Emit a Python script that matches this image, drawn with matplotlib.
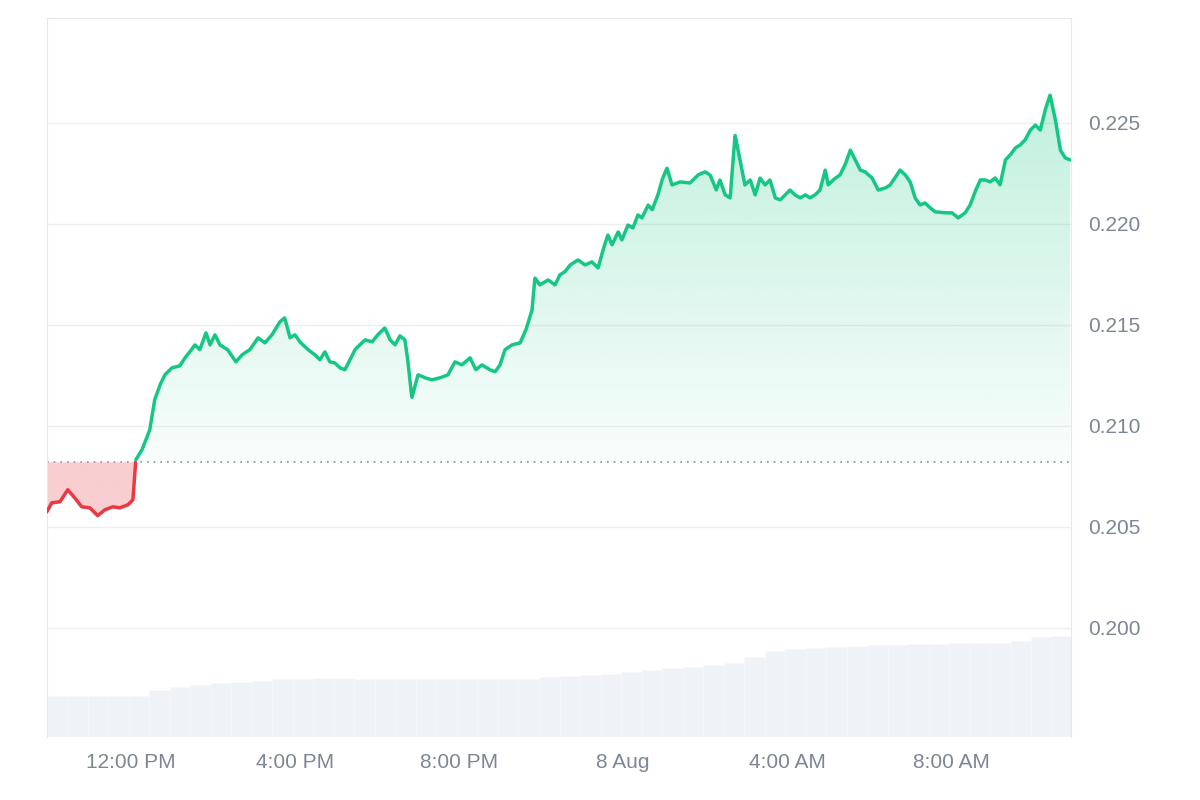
import matplotlib
matplotlib.use("Agg")
import matplotlib.pyplot as plt
import numpy as np
from matplotlib.patches import Polygon
from matplotlib.colors import to_rgb

plt.rcParams['font.family'] = ['Liberation Sans', 'DejaVu Sans']

# hours since chart start (~09:57, 7 Aug)
hours = [0,.12,.32,.51,.68,.85,1.05,1.24,1.41,1.61,1.78,1.98,2.10,2.17,2.32,2.51,2.63,2.76,2.88,3.05,3.24,3.37,3.49,3.61,3.73,3.88,3.98,4.10,4.22,4.41,4.61,4.76,4.95,5.15,5.32,5.49,5.68,5.80,5.93,6.05,6.17,6.37,6.54,6.66,6.78,6.90,7.02,7.15,7.27,7.39,7.51,7.63,7.76,7.93,8.07,8.24,8.37,8.49,8.61,8.73,8.80,8.90,9.05,9.22,9.39,9.59,9.78,9.95,10.12,10.32,10.46,10.61,10.80,10.93,11.05,11.17,11.34,11.54,11.68,11.83,11.90,12.02,12.22,12.39,12.51,12.63,12.76,12.95,13.12,13.29,13.44,13.56,13.68,13.78,13.93,14.02,14.17,14.29,14.41,14.51,14.66,14.76,14.90,15.00,15.12,15.24,15.44,15.68,15.88,16.05,16.17,16.32,16.41,16.54,16.66,16.78,16.90,17.02,17.15,17.27,17.39,17.51,17.63,17.76,17.88,18.00,18.12,18.24,18.37,18.49,18.61,18.73,18.85,18.98,19.05,19.17,19.34,19.46,19.59,19.71,19.83,19.95,20.12,20.27,20.44,20.56,20.68,20.80,20.93,21.05,21.17,21.29,21.41,21.54,21.66,21.90,22.07,22.22,22.39,22.51,22.63,22.76,22.88,23.00,23.12,23.24,23.37,23.49,23.61,23.73,23.85,23.98,24.10,24.22,24.34,24.46,24.59,24.71,24.83,24.95]
price = [0.20574,0.20619,0.20624,0.20684,0.20644,0.20599,0.20594,0.20555,0.20584,0.20599,0.20594,0.20609,0.20634,0.20832,0.20881,0.20980,0.21129,0.21203,0.21253,0.21287,0.21297,0.21337,0.21367,0.21401,0.21377,0.21461,0.21401,0.21451,0.21401,0.21377,0.21317,0.21352,0.21377,0.21436,0.21411,0.21451,0.21515,0.21535,0.21436,0.21451,0.21416,0.21377,0.21352,0.21327,0.21367,0.21317,0.21312,0.21287,0.21278,0.21327,0.21377,0.21401,0.21426,0.21416,0.21451,0.21485,0.21426,0.21401,0.21446,0.21426,0.21327,0.21139,0.21253,0.21238,0.21228,0.21238,0.21253,0.21317,0.21302,0.21337,0.21278,0.21302,0.21278,0.21268,0.21302,0.21377,0.21401,0.21411,0.21475,0.21574,0.21733,0.21698,0.21723,0.21698,0.21748,0.21763,0.21797,0.21822,0.21797,0.21812,0.21782,0.21871,0.21946,0.21896,0.21961,0.21921,0.21995,0.21980,0.22045,0.22030,0.22094,0.22070,0.22144,0.22218,0.22277,0.22193,0.22208,0.22203,0.22243,0.22258,0.22243,0.22168,0.22218,0.22144,0.22129,0.22441,0.22317,0.22193,0.22218,0.22144,0.22228,0.22193,0.22218,0.22129,0.22119,0.22144,0.22168,0.22144,0.22129,0.22144,0.22129,0.22144,0.22168,0.22267,0.22193,0.22218,0.22243,0.22292,0.22366,0.22317,0.22267,0.22258,0.22228,0.22168,0.22178,0.22193,0.22228,0.22267,0.22243,0.22208,0.22129,0.22094,0.22104,0.22079,0.22060,0.22055,0.22055,0.22030,0.22055,0.22094,0.22159,0.22218,0.22218,0.22208,0.22228,0.22193,0.22317,0.22342,0.22376,0.22391,0.22416,0.22465,0.22490,0.22465,0.22564,0.22639,0.22515,0.22366,0.22327,0.22317]
baseline = 0.2082
# volume every 30 min (relative units)
volume = [41,41,41,41,41,47,50,52,54,55,56,58,58,59,59,58,58,58,58,58,58,58,58,58,60,61,62,63,65,67,69,70,72,74,80,86,88,89,90,91,92,92,93,93,94,94,94,96,100,101]
tick_hours = [2.05, 6.05, 10.05, 14.05, 18.05, 22.05]
tick_labels = ["12:00 PM", "4:00 PM", "8:00 PM", "8 Aug", "4:00 AM", "8:00 AM"]
yticks = [0.200, 0.205, 0.210, 0.215, 0.220, 0.225]

GREEN = "#16c784"; RED = "#ea3943"; GRAY = "#7d8696"
t = np.array(hours); p = np.array(price)
xmin, xmax = 0, 24.97
ymin, ymax = 0.1946, 0.2302

fig = plt.figure(figsize=(12, 8), dpi=100)
ax = fig.add_axes([0.039, 0.079, 0.8535, 0.8985])
ax.set_xlim(xmin, xmax); ax.set_ylim(ymin, ymax)

axv = ax.twinx()
axv.set_zorder(0); ax.set_zorder(1); ax.patch.set_visible(False)
vt = np.arange(len(volume)) * 0.5 + 0.25
axv.bar(vt, volume, width=0.5, color="#eff2f6", edgecolor="#f7f8fa", linewidth=0.5)
axv.set_ylim(0, max(volume) / 0.14)
axv.set_xlim(xmin, xmax)
axv.axis("off")

for y in yticks:
    ax.axhline(y, color="#eceef1", lw=1, zorder=0)

tf = np.linspace(t[0], t[-1], 4000)
pf = np.interp(tf, t, p)
above = pf >= baseline

def grad_fill(mask, color, a_top, a_bot, top, bottom):
    yy = np.where(mask, pf, baseline)
    verts = np.column_stack([np.r_[tf, tf[::-1]], np.r_[yy, np.full_like(tf, baseline)]])
    poly = Polygon(verts, closed=True, facecolor="none", edgecolor="none")
    ax.add_patch(poly)
    n = 256
    img = np.zeros((n, 1, 4))
    img[:, 0, :3] = to_rgb(color)
    img[:, 0, 3] = np.linspace(a_top, a_bot, n)
    im = ax.imshow(img, extent=[xmin, xmax, bottom, top], aspect="auto", origin="upper", zorder=1)
    im.set_clip_path(poly)

grad_fill(above, GREEN, 0.32, 0.03, ymax, baseline)
grad_fill(~above, RED, 0.25, 0.25, baseline, 0.2040)
ax.set_ylim(ymin, ymax); ax.set_xlim(xmin, xmax)

pa = np.where(above, pf, np.nan)
pb = np.where(~above, pf, np.nan)
ax.plot(tf, pa, color=GREEN, lw=2.5, zorder=3, solid_capstyle="round")
ax.plot(tf, pb, color=RED, lw=2.5, zorder=3, solid_capstyle="round")
ax.axhline(baseline, color="#8a93a3", lw=1.2, ls=(0, (1, 3)), zorder=2)

ax.yaxis.tick_right()
ax.set_yticks(yticks)
ax.set_yticklabels([f"{v:.3f}" for v in yticks])
ax.set_xticks(tick_hours)
ax.set_xticklabels(tick_labels)
ax.tick_params(length=0, labelsize=15, colors=GRAY, pad=12)
for s in ["left", "top", "right"]:
    ax.spines[s].set_color("#e6e8ec")
ax.spines["bottom"].set_visible(False)

fig.savefig("out.png", dpi=100, facecolor="white")
